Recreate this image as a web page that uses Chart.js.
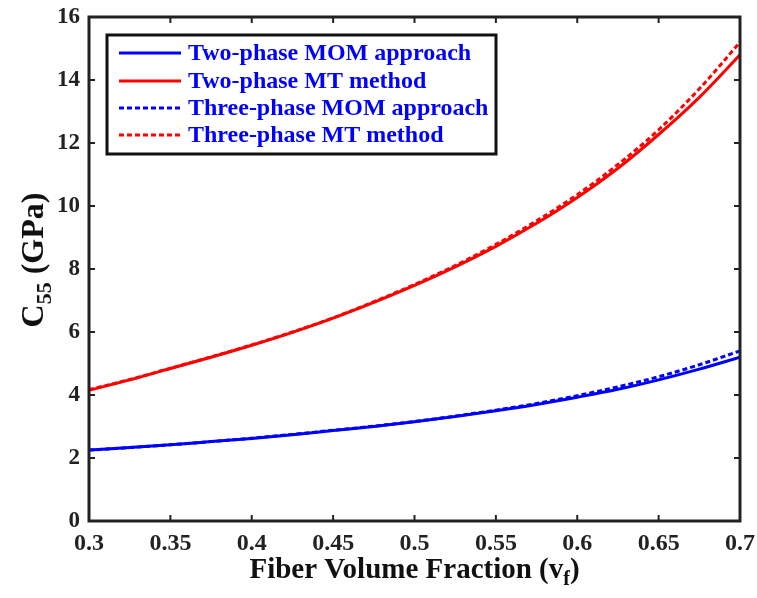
<!DOCTYPE html>
<html>
<head>
<meta charset="utf-8">
<script src="https://cdn.jsdelivr.net/npm/chart.js@4.4.0/dist/chart.umd.min.js"></script>
<style>
  html, body { margin: 0; padding: 0; background: #fff; }
  #wrap { width: 757px; height: 598px; }
</style>
</head>
<body>
<div id="wrap"><canvas id="chart" width="757" height="598"></canvas></div>
<script>
// fiber volume fraction
const vf = [0.3, 0.325, 0.35, 0.375, 0.4, 0.425, 0.45, 0.475, 0.5, 0.525, 0.55, 0.575, 0.6, 0.625, 0.65, 0.675, 0.7];

// C55 values (GPa)
const twoPhaseMOM   = [2.25, 2.33, 2.42, 2.52, 2.62, 2.74, 2.87, 3.00, 3.15, 3.32, 3.50, 3.70, 3.93, 4.18, 4.48, 4.82, 5.20];
const twoPhaseMT    = [4.15, 4.48, 4.84, 5.20, 5.58, 5.99, 6.44, 6.94, 7.48, 8.07, 8.72, 9.45, 10.27, 11.20, 12.27, 13.45, 14.80];
const threePhaseMOM = [2.25, 2.33, 2.42, 2.52, 2.63, 2.75, 2.88, 3.01, 3.16, 3.33, 3.52, 3.73, 3.98, 4.26, 4.58, 4.96, 5.40];
const threePhaseMT  = [4.17, 4.49, 4.85, 5.21, 5.59, 6.00, 6.45, 6.96, 7.51, 8.11, 8.78, 9.53, 10.36, 11.32, 12.42, 13.72, 15.20];

const xTicks = [0.3, 0.35, 0.4, 0.45, 0.5, 0.55, 0.6, 0.65, 0.7];
const yTicks = [0, 2, 4, 6, 8, 10, 12, 14, 16];

const seriesLabels = ['Two-phase MOM approach', 'Two-phase MT method', 'Three-phase MOM approach', 'Three-phase MT method'];

const BLUE = '#0000ff';
const RED = '#ff0000';
const serif = '"Liberation Serif", "Times New Roman", serif';

function pts(ys) {
  return vf.map((x, i) => ({ x: x, y: ys[i] }));
}

function ds(label, ys, color, dashed) {
  return {
    label: label,
    data: pts(ys),
    borderColor: color,
    backgroundColor: color,
    borderWidth: 3,
    borderDash: dashed ? [5, 3] : [],
    pointRadius: 0,
    tension: 0.4,
    cubicInterpolationMode: 'monotone',
    fill: false
  };
}

// box, inward ticks, axis titles and the boxed legend
const decorPlugin = {
  id: 'decor',
  afterDraw(chart) {
    const ctx = chart.ctx;
    const a = chart.chartArea;
    const xs = chart.scales.x, ys = chart.scales.y;
    ctx.save();
    ctx.strokeStyle = '#222';
    ctx.lineWidth = 3;
    ctx.strokeRect(a.left, a.top, a.right - a.left, a.bottom - a.top);

    ctx.lineWidth = 2;
    ctx.beginPath();
    xTicks.forEach(v => {
      const px = xs.getPixelForValue(v);
      ctx.moveTo(px, a.bottom); ctx.lineTo(px, a.bottom - 6);
      ctx.moveTo(px, a.top); ctx.lineTo(px, a.top + 6);
    });
    yTicks.forEach(v => {
      const py = ys.getPixelForValue(v);
      ctx.moveTo(a.left, py); ctx.lineTo(a.left + 6, py);
      ctx.moveTo(a.right, py); ctx.lineTo(a.right - 6, py);
    });
    ctx.stroke();

    // x title
    ctx.fillStyle = '#111';
    ctx.textBaseline = 'alphabetic';
    let big = 'bold 29px ' + serif;
    let sub = 'bold 20px ' + serif;
    ctx.font = big;
    const xt1 = 'Fiber Volume Fraction (v';
    const w1 = ctx.measureText(xt1).width;
    ctx.font = sub;
    const wf = ctx.measureText('f').width;
    ctx.font = big;
    const w2 = ctx.measureText(')').width;
    let x0 = (a.left + a.right) / 2 - (w1 + wf + w2) / 2;
    const by = 578;
    ctx.textAlign = 'left';
    ctx.fillText(xt1, x0, by);
    ctx.font = sub;
    ctx.fillText('f', x0 + w1, by + 7);
    ctx.font = big;
    ctx.fillText(')', x0 + w1 + wf, by);

    // y title
    big = 'bold 32px ' + serif;
    sub = 'bold 22px ' + serif;
    ctx.save();
    ctx.translate(43, 260);
    ctx.rotate(-Math.PI / 2);
    const yA = 'C', yB = '55', yC = ' (GPa)';
    ctx.font = big;
    const wA = ctx.measureText(yA).width, wC = ctx.measureText(yC).width;
    ctx.font = sub;
    const wB = ctx.measureText(yB).width;
    let y0 = -(wA + wB + wC) / 2;
    ctx.font = big;
    ctx.fillText(yA, y0, 0);
    ctx.font = sub;
    ctx.fillText(yB, y0 + wA, 8);
    ctx.font = big;
    ctx.fillText(yC, y0 + wA + wB, 0);
    ctx.restore();

    // legend
    const lx = 107, ly = 35, lw = 389, lh = 119;
    ctx.fillStyle = '#fff';
    ctx.fillRect(lx, ly, lw, lh);
    ctx.strokeStyle = '#111';
    ctx.lineWidth = 3;
    ctx.strokeRect(lx, ly, lw, lh);
    const rows = [53, 81, 108, 135];
    chart.data.datasets.forEach((d, i) => {
      ctx.strokeStyle = d.borderColor;
      ctx.lineWidth = 3;
      ctx.setLineDash(d.borderDash);
      ctx.beginPath();
      ctx.moveTo(119, rows[i]); ctx.lineTo(181, rows[i]);
      ctx.stroke();
      ctx.setLineDash([]);
      ctx.fillStyle = BLUE;
      ctx.font = 'bold 24px ' + serif;
      ctx.textBaseline = 'middle';
      ctx.fillText(d.label, 188, rows[i] + 1);
    });
    ctx.restore();
  }
};

new Chart(document.getElementById('chart'), {
  type: 'line',
  data: {
    datasets: [
      ds(seriesLabels[0], twoPhaseMOM, BLUE, false),
      ds(seriesLabels[1], twoPhaseMT, RED, false),
      ds(seriesLabels[2], threePhaseMOM, BLUE, true),
      ds(seriesLabels[3], threePhaseMT, RED, true)
    ]
  },
  options: {
    responsive: false,
    animation: false,
    layout: { padding: { left: 0, right: 17, top: 17, bottom: 0 } },
    plugins: { legend: { display: false }, tooltip: { enabled: false } },
    scales: {
      x: {
        type: 'linear',
        min: 0.3, max: 0.7,
        afterBuildTicks: s => { s.ticks = xTicks.map(v => ({ value: v })); },
        afterFit: s => { s.height = 77; s.paddingLeft = 0; s.paddingRight = 0; },
        grid: { display: false, drawTicks: false },
        border: { display: false },
        ticks: {
          color: '#222',
          font: { family: serif, size: 24, weight: 'bold' },
          padding: 8,
          maxRotation: 0,
          callback: v => String(Number(v.toFixed(2)))
        }
      },
      y: {
        type: 'linear',
        min: 0, max: 16,
        afterBuildTicks: s => { s.ticks = yTicks.map(v => ({ value: v })); },
        afterFit: s => { s.width = 89; s.paddingTop = 0; s.paddingBottom = 0; },
        grid: { display: false, drawTicks: false },
        border: { display: false },
        ticks: {
          color: '#222',
          font: { family: serif, size: 23, weight: 'bold' },
          padding: 9
        }
      }
    }
  },
  plugins: [decorPlugin]
});
</script>
</body>
</html>
